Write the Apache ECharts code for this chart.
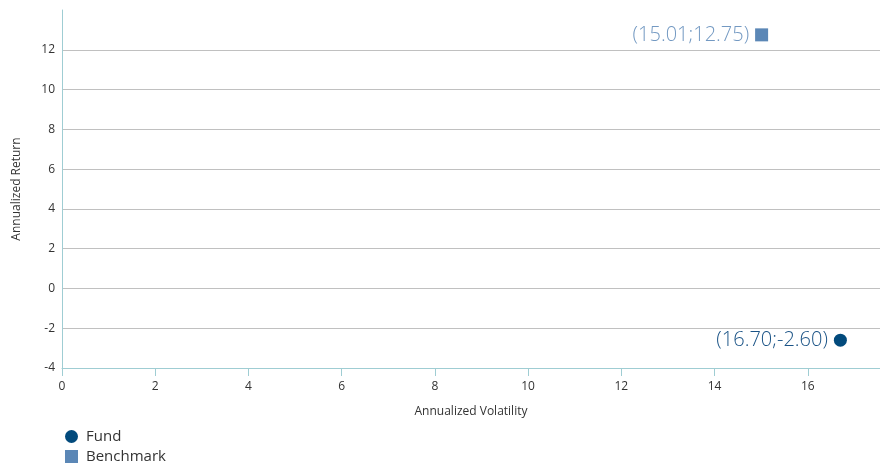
<!DOCTYPE html>
<html><head><meta charset="utf-8">
<script src="https://cdn.jsdelivr.net/npm/echarts@6/dist/echarts.min.js"></script>
<style>html,body{margin:0;padding:0;background:#fff}#c{width:880px;height:468px}</style>
</head><body><div id="c"></div>
<script>
const seriesNames = ['Fund', 'Benchmark'];
const fundPoint = [16.70, -2.60];
const benchmarkPoint = [15.01, 12.75];
const xAxisName = 'Annualized Volatility';
const yAxisName = 'Annualized Return';

const font = '"Open Sans", "Noto Sans", sans-serif';
const chart = echarts.init(document.getElementById('c'));
function lbl(p){ return '(' + p.value[0].toFixed(2) + ';' + p.value[1].toFixed(2) + ')'; }
chart.setOption({
  animation: false,
  textStyle: { fontFamily: font },
  grid: { left: 62, right: 0, top: 10, bottom: 100, containLabel: false },
  xAxis: {
    type: 'value', min: 0, max: 17.55, interval: 2,
    name: xAxisName, nameLocation: 'middle', nameGap: 38,
    nameTextStyle: { fontSize: 12, color: '#333', fontFamily: font },
    axisLine: { show: true, onZero: false, lineStyle: { color: '#9fcdd3', width: 1 } },
    axisTick: { show: true, length: 8, lineStyle: { color: '#9fcdd3' } },
    axisLabel: { fontSize: 12, color: '#333', margin: 13, showMaxLabel: false },
    splitLine: { show: false }
  },
  yAxis: {
    type: 'value', min: -4, max: 14, interval: 2,
    name: yAxisName, nameLocation: 'middle', nameGap: 39, nameRotate: 90,
    nameTextStyle: { fontSize: 12, color: '#333', fontFamily: font },
    axisLine: { show: true, onZero: false, lineStyle: { color: '#9fcdd3', width: 1 } },
    axisTick: { show: false },
    axisLabel: { fontSize: 12, color: '#333', margin: 7, showMaxLabel: false },
    splitLine: { show: true, showMaxLine: false, showMinLine: false, lineStyle: { color: '#c0c0c0', width: 1 } }
  },
  legend: {
    orient: 'vertical', left: 65, top: 429, padding: 0, itemGap: 5,
    itemWidth: 13, itemHeight: 13,
    textStyle: { fontSize: 15, color: '#333', fontFamily: font, padding: [0, 0, 0, 3] },
    data: [{ name: seriesNames[0], icon: 'circle' }, { name: seriesNames[1], icon: 'rect' }]
  },
  series: [
    { name: seriesNames[0], type: 'scatter', symbol: 'circle', symbolSize: 13,
      itemStyle: { color: '#024a7c', opacity: 1 }, data: [fundPoint],
      label: { show: true, position: 'left', distance: 6, formatter: lbl, fontSize: 20, color: '#1a5386', fontFamily: font, fontWeight: 300 } },
    { name: seriesNames[1], type: 'scatter', symbol: 'rect', symbolSize: 13,
      itemStyle: { color: '#5b87b6', opacity: 1 }, data: [benchmarkPoint],
      label: { show: true, position: 'left', distance: 6, formatter: lbl, fontSize: 20, color: '#7399c2', fontFamily: font, fontWeight: 300 } }
  ]
});
</script></body></html>
